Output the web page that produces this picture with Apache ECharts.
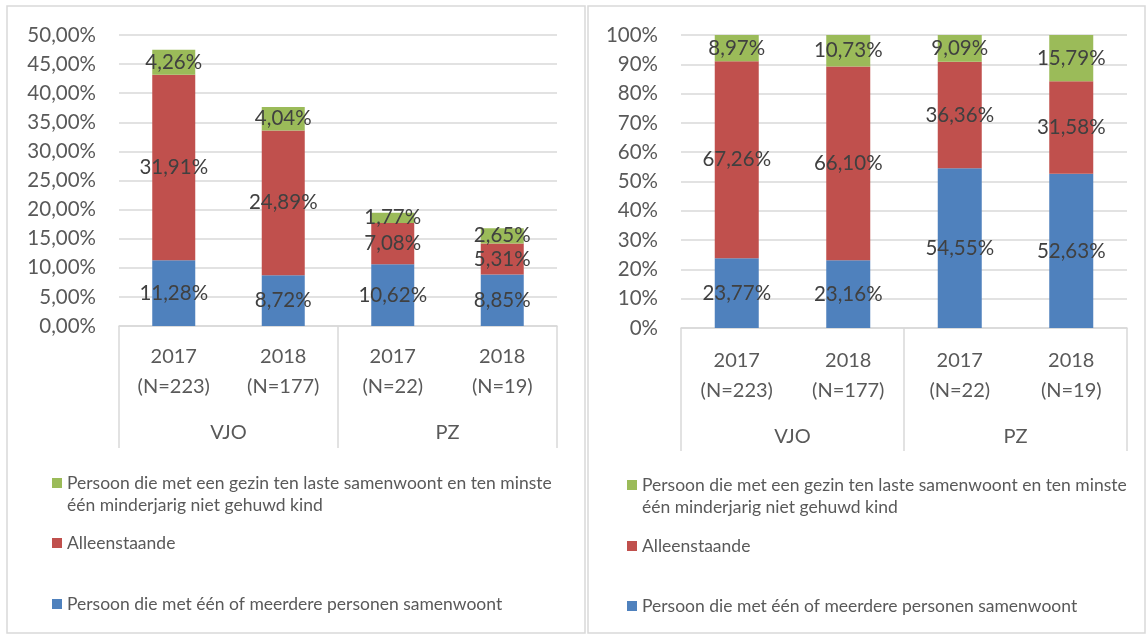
<!DOCTYPE html>
<html>
<head>
<meta charset="utf-8">
<script src="https://cdn.jsdelivr.net/npm/echarts@6/dist/echarts.min.js"></script>
<style>
  html, body { margin: 0; padding: 0; background: #fff; }
  #chart { width: 1147px; height: 635px; }
</style>
</head>
<body>
<div id="chart"></div>
<script>
// categories
var categories = ['2017\n(N=223)', '2018\n(N=177)', '2017\n(N=22)', '2018\n(N=19)'];
var groups = ['VJO', 'PZ'];

// series names
var greenName = 'Persoon die met een gezin ten laste samenwoont en ten minste één minderjarig niet gehuwd kind';
var redName = 'Alleenstaande';
var blueName = 'Persoon die met één of meerdere personen samenwoont';

// left chart (share of total)
var leftBlue = [11.28, 8.72, 10.62, 8.85];
var leftRed = [31.91, 24.89, 7.08, 5.31];
var leftGreen = [4.26, 4.04, 1.77, 2.65];

// right chart (100% stacked)
var rightBlue = [23.77, 23.16, 54.55, 52.63];
var rightRed = [67.26, 66.10, 36.36, 31.58];
var rightGreen = [8.97, 10.73, 9.09, 15.79];

var FONT = 'Lato';
var GREY = '#595959';
var LINE = '#d9d9d9';
var BLUE = '#4F81BD', RED = '#C0504D', GREEN = '#9BBB59';

function pct(v) { return v.toFixed(2).replace('.', ',') + '%'; }

function bar(name, data, color, stack, axis, width) {
    return {
        name: name,
        type: 'bar',
        stack: stack,
        xAxisIndex: axis,
        yAxisIndex: axis / 2,
        barWidth: width,
        data: data,
        itemStyle: { color: color },
        label: {
            show: true,
            position: 'inside',
            color: '#404040',
            fontFamily: FONT,
            fontSize: 20.5,
            formatter: function (p) { return pct(p.value); }
        }
    };
}

function catAxis(grid, labelMargin) {
    return {
        type: 'category', gridIndex: grid, position: 'bottom', data: categories,
        axisLine: { show: false }, axisTick: { show: false },
        axisLabel: { interval: 0, margin: labelMargin, color: GREY, fontFamily: FONT, fontSize: 20, lineHeight: 30 }
    };
}
function groupAxis(grid, tickLen, labelMargin) {
    return {
        type: 'category', gridIndex: grid, position: 'bottom', data: groups,
        axisLine: { show: true, lineStyle: { color: LINE, width: 1.5 } },
        axisTick: { show: true, interval: 0, alignWithLabel: false, length: tickLen, lineStyle: { color: LINE, width: 1.5 } },
        axisLabel: { interval: 0, margin: labelMargin, color: GREY, fontFamily: FONT, fontSize: 20, lineHeight: 24 }
    };
}
function valAxis(grid, max, interval, fmt) {
    return {
        type: 'value', gridIndex: grid, min: 0, max: max, interval: interval,
        axisLine: { show: false }, axisTick: { show: false },
        splitLine: { lineStyle: { color: LINE, width: 1.5 } },
        axisLabel: { margin: 23, color: GREY, fontFamily: FONT, fontSize: 20.5, formatter: fmt }
    };
}

// green legend icon: square on the first text line
var greenIcon = 'path://M0,0L10,0L10,10L0,10Z M0,32L10,32';

function legends(x, gTop, rTop, bTop) {
    var ts = { color: GREY, fontFamily: FONT, fontSize: 17.5, lineHeight: 22, width: 500, overflow: 'break' };
    return [
        { data: [{ name: greenName, icon: greenIcon }], left: x, top: gTop, padding: 0, itemWidth: 10, itemHeight: 32, selectedMode: false, textStyle: ts },
        { data: [{ name: redName, icon: 'rect' }], left: x, top: rTop, padding: 0, itemWidth: 10, itemHeight: 10, selectedMode: false, textStyle: ts },
        { data: [{ name: blueName, icon: 'rect' }], left: x, top: bTop, padding: 0, itemWidth: 10, itemHeight: 10, selectedMode: false, textStyle: ts }
    ];
}

var chart = echarts.init(document.getElementById('chart'));
var option = {
    animation: false,
    textStyle: { fontFamily: FONT },
    graphic: [
        { type: 'rect', shape: { x: 7, y: 6, width: 578, height: 627 }, style: { fill: 'none', stroke: LINE, lineWidth: 1.5 } },
        { type: 'rect', shape: { x: 588, y: 6, width: 557, height: 627 }, style: { fill: 'none', stroke: LINE, lineWidth: 1.5 } }
    ],
    grid: [
        { left: 119, top: 35, width: 438, height: 291, outerBoundsMode: 'none' },
        { left: 681, top: 35, width: 446, height: 293, outerBoundsMode: 'none' }
    ],
    xAxis: [
        catAxis(0, 16),
        groupAxis(0, 122, 95),
        catAxis(1, 18),
        groupAxis(1, 123, 97)
    ],
    yAxis: [
        valAxis(0, 50, 5, function (v) { return v.toFixed(2).replace('.', ',') + '%'; }),
        valAxis(1, 100, 10, function (v) { return v + '%'; })
    ],
    legend: legends(52, 472, 532, 593).concat(legends(627, 474, 535, 595)),
    series: [
        bar(blueName, leftBlue, BLUE, 'L', 0, 43),
        bar(redName, leftRed, RED, 'L', 0, 43),
        bar(greenName, leftGreen, GREEN, 'L', 0, 43),
        bar(blueName, rightBlue, BLUE, 'R', 2, 44),
        bar(redName, rightRed, RED, 'R', 2, 44),
        bar(greenName, rightGreen, GREEN, 'R', 2, 44)
    ]
};
chart.setOption(option);
</script>
</body>
</html>
